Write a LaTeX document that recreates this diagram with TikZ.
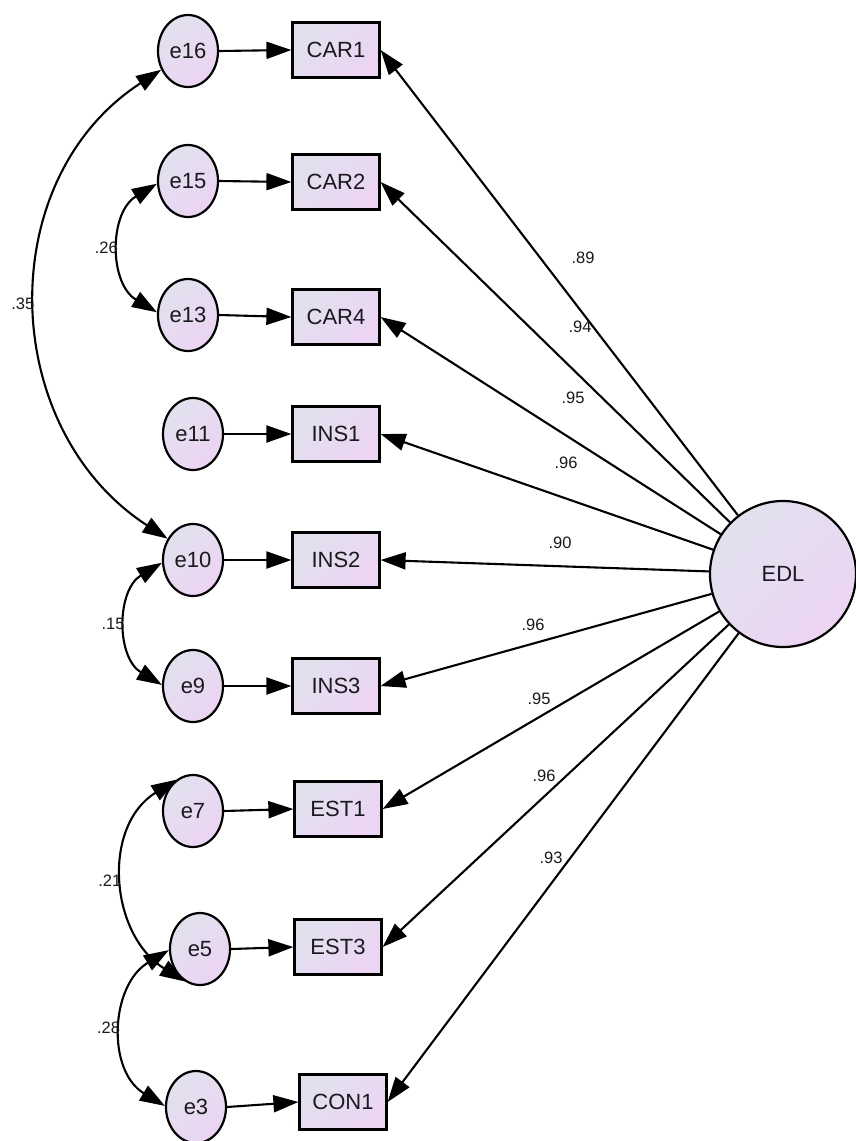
\documentclass[tikz,border=0pt]{standalone}
\usepackage{fontspec}
\setmainfont{Liberation Sans}
\usetikzlibrary{arrows.meta,shapes.geometric}
\definecolor{cA}{RGB}{225,225,238}
\definecolor{cB}{RGB}{236,212,243}
\definecolor{txt}{RGB}{25,25,30}
\begin{document}
\begin{tikzpicture}[x=1pt,y=-1pt,
  shade/.style={left color=cA, right color=cB, shading angle=45},
  errnode/.style={ellipse, draw=black, line width=2.2pt, shade, minimum width=60pt, minimum height=72pt, inner sep=0pt, text=txt, font=\fontsize{22}{24}\selectfont},
  obsnode/.style={rectangle, draw=black, line width=2.2pt, shade, minimum width=87pt, minimum height=55pt, inner sep=0pt, text=txt, font=\fontsize{22}{24}\selectfont},
  latnode/.style={circle, draw=black, line width=2.2pt, shade, minimum size=146pt, inner sep=0pt, text=txt, font=\fontsize{22}{24}\selectfont},
  arr/.style={line width=2.1pt, -{Triangle[length=25pt,width=17pt]}},
  cov/.style={line width=2.1pt, {Triangle[length=25pt,width=17pt]}-{Triangle[length=25pt,width=17pt]}},
  lab/.style={text=txt, font=\fontsize{16.5}{18}\selectfont, inner sep=1pt}
]
\useasboundingbox (0,0) rectangle (856,1141);
% error terms
\node[errnode] (e16) at (188,51) {e16};
\node[errnode] (e15) at (188,181) {e15};
\node[errnode] (e13) at (188,315) {e13};
\node[errnode] (e11) at (193,434) {e11};
\node[errnode] (e10) at (193,560) {e10};
\node[errnode] (e9)  at (193,686) {e9};
\node[errnode] (e7)  at (193,811) {e7};
\node[errnode] (e5)  at (200,949) {e5};
\node[errnode] (e3)  at (196,1107) {e3};
% observed
\node[obsnode] (CAR1) at (336,50) {CAR1};
\node[obsnode] (CAR2) at (336,182) {CAR2};
\node[obsnode] (CAR4) at (336,317) {CAR4};
\node[obsnode] (INS1) at (336,434) {INS1};
\node[obsnode] (INS2) at (336,560) {INS2};
\node[obsnode] (INS3) at (336,686) {INS3};
\node[obsnode] (EST1) at (338,809) {EST1};
\node[obsnode] (EST3) at (338,947) {EST3};
\node[obsnode] (CON1) at (343,1102) {CON1};
% latent
\node[latnode] (EDL) at (783,574) {EDL};
% error arrows
\foreach \e/\b in {e16/CAR1,e15/CAR2,e13/CAR4,e11/INS1,e10/INS2,e9/INS3,e7/EST1,e5/EST3,e3/CON1}
  \draw[arr] (\e.east) -- (\b.west);
% loadings
\foreach \b in {CAR1,CAR2,CAR4,INS1,INS2,INS3,EST1,EST3,CON1}
  \draw[arr] (EDL) -- (\b.east);
\node[lab] (l1) at (583,258) {.89};
\node[lab] (l2) at (580,327) {.94};
\node[lab] (l3) at (573,398) {.95};
\node[lab] (l4) at (566,463) {.96};
\node[lab] (l5) at (560,543) {.90};
\node[lab] (l6) at (533,625) {.96};
\node[lab] (l7) at (539,699) {.95};
\node[lab] (l8) at (544,776) {.96};
\node[lab] (l9) at (551,858) {.93};
% covariances
\draw[cov] (e16.215) to[out=213,in=147,looseness=1.1] node[midway,left=1pt,lab]{.35} (e10.140);
\draw[cov] (e15.185) to[out=211,in=149,looseness=1.12] node[midway,left=1pt,lab]{.26} (e13.175);
\draw[cov] (e10.185) to[out=211,in=149,looseness=1.12] node[midway,left=1pt,lab]{.15} (e9.178);
\draw[cov] (e7.118) to[out=212,in=148,looseness=1.12] node[midway,left=1pt,lab]{.21} (e5.245);
\draw[cov] (e5.182) to[out=211,in=149,looseness=1.12] node[midway,left=1pt,lab]{.28} (e3.178);
\end{tikzpicture}
\end{document}
